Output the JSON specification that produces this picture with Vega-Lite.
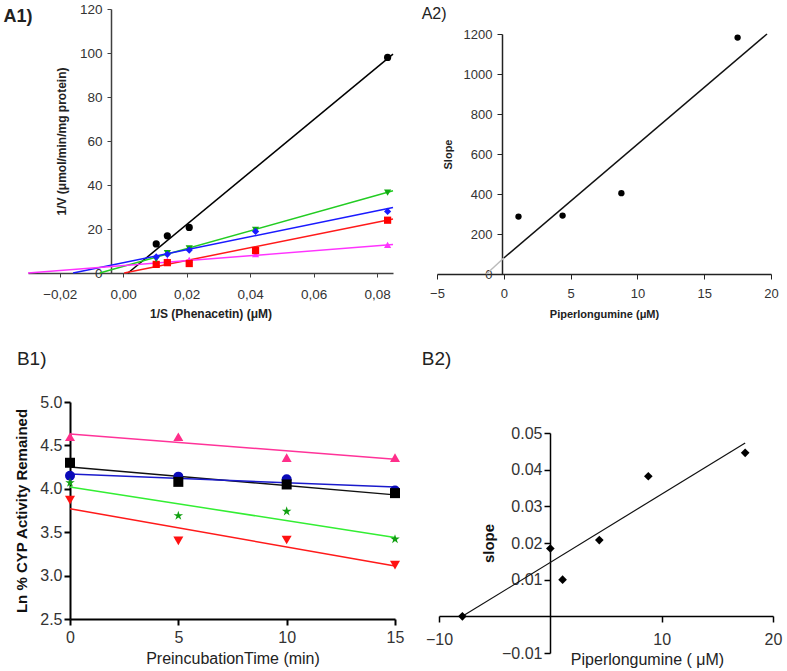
{
  "$schema": "https://vega.github.io/schema/vega-lite/v6.json",
  "width": 787,
  "height": 671,
  "padding": 0,
  "autosize": "none",
  "background": "white",
  "config": {
    "view": {"stroke": null},
    "axis": {"grid": false, "labelFont": "Liberation Sans", "titleFont": "Liberation Sans", "labelFlush": false, "labelOverlap": false},
    "text": {"font": "Liberation Sans"}
  },
  "datasets": {
    "a1p": [
      {"s": "k", "x": 0.0104, "y": 13.2}, {"s": "k", "x": 0.0139, "y": 16.9}, {"s": "k", "x": 0.0208, "y": 20.7}, {"s": "k", "x": 0.0833, "y": 98.0},
      {"s": "m", "x": 0.0104, "y": 5.2}, {"s": "m", "x": 0.0139, "y": 5.6}, {"s": "m", "x": 0.0208, "y": 6.0}, {"s": "m", "x": 0.0417, "y": 8.6}, {"s": "m", "x": 0.0833, "y": 12.8},
      {"s": "r", "x": 0.0104, "y": 3.9}, {"s": "r", "x": 0.0139, "y": 4.7}, {"s": "r", "x": 0.0208, "y": 4.3}, {"s": "r", "x": 0.0417, "y": 10.2}, {"s": "r", "x": 0.0833, "y": 24.0},
      {"s": "g", "x": 0.0104, "y": 6.3}, {"s": "g", "x": 0.0139, "y": 9.0}, {"s": "g", "x": 0.0208, "y": 11.2}, {"s": "g", "x": 0.0417, "y": 19.6}, {"s": "g", "x": 0.0833, "y": 36.5},
      {"s": "b", "x": 0.0104, "y": 7.3}, {"s": "b", "x": 0.0139, "y": 8.5}, {"s": "b", "x": 0.0208, "y": 10.4}, {"s": "b", "x": 0.0417, "y": 18.9}, {"s": "b", "x": 0.0833, "y": 28.0}
    ],
    "a1l": [
      {"s": "k", "x": 0.0015, "y": 0}, {"s": "k", "x": 0.085, "y": 99.5},
      {"s": "g", "x": -0.0074, "y": 0}, {"s": "g", "x": 0.085, "y": 37.4},
      {"s": "b", "x": -0.0158, "y": 0}, {"s": "b", "x": 0.085, "y": 29.8},
      {"s": "r", "x": 0.0003, "y": 0}, {"s": "r", "x": 0.085, "y": 24.5},
      {"s": "m", "x": -0.03, "y": 0}, {"s": "m", "x": 0.085, "y": 12.9}
    ],
    "a2p": [
      {"s": "k", "x": 1.1, "y": 287}, {"s": "k", "x": 4.4, "y": 292}, {"s": "k", "x": 8.8, "y": 404}, {"s": "k", "x": 17.5, "y": 1182}
    ],
    "a2l": [
      {"s": "k", "x": 0, "y": 80}, {"s": "k", "x": 19.7, "y": 1200},
      {"s": "g", "x": -1.3, "y": 0}, {"s": "g", "x": 0, "y": 80}
    ],
    "b1p": [
      {"s": "p", "x": 0, "y": 4.60}, {"s": "p", "x": 5, "y": 4.60}, {"s": "p", "x": 10, "y": 4.36}, {"s": "p", "x": 15, "y": 4.36},
      {"s": "b", "x": 0, "y": 4.15}, {"s": "b", "x": 5, "y": 4.14}, {"s": "b", "x": 10, "y": 4.11}, {"s": "b", "x": 15, "y": 3.98},
      {"s": "k", "x": 0, "y": 4.30}, {"s": "k", "x": 5, "y": 4.08}, {"s": "k", "x": 10, "y": 4.05}, {"s": "k", "x": 15, "y": 3.95},
      {"s": "g", "x": 0, "y": 4.07}, {"s": "g", "x": 5, "y": 3.69}, {"s": "g", "x": 10, "y": 3.74}, {"s": "g", "x": 15, "y": 3.42},
      {"s": "r", "x": 0, "y": 3.87}, {"s": "r", "x": 5, "y": 3.40}, {"s": "r", "x": 10, "y": 3.41}, {"s": "r", "x": 15, "y": 3.12}
    ],
    "b1l": [
      {"s": "p", "x": 0, "y": 4.63}, {"s": "p", "x": 15, "y": 4.34},
      {"s": "k", "x": 0, "y": 4.25}, {"s": "k", "x": 15, "y": 3.93},
      {"s": "b", "x": 0, "y": 4.17}, {"s": "b", "x": 15, "y": 4.02},
      {"s": "g", "x": 0, "y": 4.02}, {"s": "g", "x": 15, "y": 3.44},
      {"s": "r", "x": 0, "y": 3.77}, {"s": "r", "x": 15, "y": 3.11}
    ],
    "b2p": [
      {"s": "k", "x": -7.9, "y": 0.0}, {"s": "k", "x": 0, "y": 0.0185}, {"s": "k", "x": 1.1, "y": 0.0100},
      {"s": "k", "x": 4.4, "y": 0.0208}, {"s": "k", "x": 8.8, "y": 0.0382}, {"s": "k", "x": 17.5, "y": 0.0446}
    ],
    "b2l": [
      {"s": "k", "x": -7.9, "y": 0.0}, {"s": "k", "x": 17.5, "y": 0.0473}
    ]
  },
  "layer": [
    {
      "encoding": {
        "x": {"field": "x", "type": "quantitative",
          "scale": {"domain": [-0.03, 0.085], "range": [28, 393], "zero": false, "nice": false},
          "axis": {"orient": "bottom", "offset": -398, "values": [-0.02, 0, 0.02, 0.04, 0.06, 0.08],
            "labelExpr": "replace(format(datum.value, '.2f'), '.', ',')",
            "title": "1/S (Phenacetin) (μM)", "titleFontSize": 12, "titleFontWeight": "bold", "titleColor": "#222", "titlePadding": 8,
            "labelFontSize": 13.5, "labelColor": "#333", "tickSize": 4, "labelPadding": 10,
            "domainColor": "#404040", "tickColor": "#404040", "domainWidth": 1.5}},
        "y": {"field": "y", "type": "quantitative",
          "scale": {"domain": [0, 120], "range": [273, 9], "zero": false, "nice": false},
          "axis": {"orient": "left", "offset": -111, "values": [0, 20, 40, 60, 80, 100, 120], "format": "d",
            "title": "1/V (μmol/min/mg protein)", "titleFontSize": 12, "titleFontWeight": "bold", "titleColor": "#222", "titlePadding": 11,
            "labelFontSize": 13.5, "labelColor": "#333", "tickSize": 4, "labelPadding": 5,
            "domainColor": "#404040", "tickColor": "#404040", "domainWidth": 1.5}}
      },
      "layer": [
        {"data": {"name": "a1l"}, "mark": {"type": "line", "strokeWidth": 1.5},
          "encoding": {"stroke": {"field": "s", "type": "nominal", "legend": null,
            "scale": {"domain": ["k", "g", "b", "r", "m"], "range": ["#000000", "#22cc22", "#1a1aff", "#ff1a1a", "#ff33ff"]}}}},
        {"data": {"name": "a1p"}, "mark": {"type": "point", "filled": true, "opacity": 1, "size": 52, "strokeWidth": 0},
          "encoding": {
            "fill": {"field": "s", "type": "nominal", "legend": null,
              "scale": {"domain": ["k", "g", "b", "r", "m"], "range": ["#000000", "#11aa11", "#1a1aff", "#ff0000", "#ff33ff"]}},
            "shape": {"field": "s", "type": "nominal", "legend": null,
              "scale": {"domain": ["k", "g", "b", "r", "m"], "range": ["circle", "triangle-down", "diamond", "square", "triangle-up"]}}}},
        {"data": {"values": [{"x": -0.0377, "y": 114.1, "t": "A1)"}]},
          "mark": {"type": "text", "align": "left", "baseline": "alphabetic", "fontSize": 18, "fontWeight": "bold", "color": "#222"},
          "encoding": {"text": {"field": "t"}}}
      ]
    },
    {
      "encoding": {
        "x": {"field": "x", "type": "quantitative",
          "scale": {"domain": [-5, 20], "range": [437, 771], "zero": false, "nice": false},
          "axis": {"orient": "bottom", "offset": -397, "values": [-5, 0, 5, 10, 15, 20], "format": "d",
            "title": "Piperlongumine (μM)", "titleFontSize": 11, "titleFontWeight": "bold", "titleColor": "#222", "titlePadding": 8,
            "labelFontSize": 13, "labelColor": "#333", "tickSize": 5, "labelPadding": 8,
            "domainColor": "#222", "tickColor": "#222", "domainWidth": 1.5}},
        "y": {"field": "y", "type": "quantitative",
          "scale": {"domain": [0, 1200], "range": [274, 34], "zero": false, "nice": false},
          "axis": {"orient": "left", "offset": -502, "values": [0, 200, 400, 600, 800, 1000, 1200], "format": "d",
            "title": "Slope", "titleFontSize": 11, "titleFontWeight": "bold", "titleColor": "#222", "titlePadding": 10,
            "labelFontSize": 13, "labelColor": "#333", "tickSize": 5, "labelPadding": 5,
            "domainColor": "#222", "tickColor": "#222", "domainWidth": 1.5}}
      },
      "layer": [
        {"data": {"name": "a2l"}, "mark": {"type": "line", "strokeWidth": 1.5},
          "encoding": {"stroke": {"field": "s", "type": "nominal", "legend": null,
            "scale": {"domain": ["k", "g"], "range": ["#111111", "#bbbbbb"]}}}},
        {"data": {"name": "a2p"}, "mark": {"type": "point", "filled": true, "opacity": 1, "size": 40, "strokeWidth": 0, "shape": "circle", "color": "#000000"}},
        {"data": {"values": [{"x": -6.15, "y": 1273, "t": "A2)"}]},
          "mark": {"type": "text", "align": "left", "baseline": "alphabetic", "fontSize": 16, "color": "#222"},
          "encoding": {"text": {"field": "t"}}}
      ]
    },
    {
      "encoding": {
        "x": {"field": "x", "type": "quantitative",
          "scale": {"domain": [0, 15], "range": [70, 395], "zero": false, "nice": false},
          "axis": {"orient": "bottom", "offset": -52, "values": [0, 5, 10, 15], "format": "d",
            "title": "PreincubationTime (min)", "titleFontSize": 16, "titleFontWeight": "normal", "titleColor": "#222", "titlePadding": 5,
            "labelFontSize": 16, "labelColor": "#333", "tickSize": 6, "labelPadding": 4,
            "domainColor": "#000", "tickColor": "#000", "domainWidth": 2, "tickWidth": 2}},
        "y": {"field": "y", "type": "quantitative",
          "scale": {"domain": [2.5, 5.0], "range": [619, 402], "zero": false, "nice": false},
          "axis": {"orient": "left", "offset": -70, "values": [2.5, 3.0, 3.5, 4.0, 4.5, 5.0], "format": ".1f",
            "title": "Ln % CYP Activity Remained", "titleFontSize": 15, "titleFontWeight": "bold", "titleColor": "#111", "titlePadding": 10,
            "labelFontSize": 16, "labelColor": "#333", "tickSize": 6, "labelPadding": 2,
            "domainColor": "#000", "tickColor": "#000", "domainWidth": 2, "tickWidth": 2}}
      },
      "layer": [
        {"data": {"name": "b1l"}, "mark": {"type": "line", "strokeWidth": 1.5},
          "encoding": {"stroke": {"field": "s", "type": "nominal", "legend": null,
            "scale": {"domain": ["p", "k", "b", "g", "r"], "range": ["#ff3399", "#111111", "#1a1acc", "#33ee33", "#ff1a1a"]}}}},
        {"data": {"name": "b1p"}, "mark": {"type": "point", "filled": true, "opacity": 1, "size": 100, "strokeWidth": 0},
          "encoding": {
            "fill": {"field": "s", "type": "nominal", "legend": null,
              "scale": {"domain": ["p", "k", "b", "g", "r"], "range": ["#ff2e8a", "#000000", "#0a0ab8", "#11a011", "#ff1111"]}},
            "shape": {"field": "s", "type": "nominal", "legend": null,
              "scale": {"domain": ["p", "k", "b", "g", "r"], "range": ["triangle-up", "square", "circle", "M0,-1L0.2245,-0.309L0.9511,-0.309L0.3633,0.118L0.5878,0.809L0,0.382L-0.5878,0.809L-0.3633,0.118L-0.9511,-0.309L-0.2245,-0.309Z", "triangle-down"]}}}},
        {"data": {"values": [{"x": -2.45, "y": 5.426, "t": "B1)"}]},
          "mark": {"type": "text", "align": "left", "baseline": "alphabetic", "fontSize": 19, "color": "#222"},
          "encoding": {"text": {"field": "t"}}}
      ]
    },
    {
      "encoding": {
        "x": {"field": "x", "type": "quantitative",
          "scale": {"domain": [-10, 20], "range": [439, 773], "zero": false, "nice": false},
          "axis": {"orient": "bottom", "offset": -55, "values": [-10, 10, 20], "format": "d",
            "title": "Piperlongumine ( μM)", "titleFontSize": 16, "titleFontWeight": "normal", "titleColor": "#222", "titlePadding": 4, "titleX": 647,
            "labelFontSize": 16, "labelColor": "#333", "tickSize": 6, "labelPadding": 9,
            "domainColor": "#000", "tickColor": "#000", "domainWidth": 1.5, "tickWidth": 1.5}},
        "y": {"field": "y", "type": "quantitative",
          "scale": {"domain": [-0.01, 0.05], "range": [653, 433], "zero": false, "nice": false},
          "axis": {"orient": "left", "offset": -550, "values": [-0.01, 0.01, 0.02, 0.03, 0.04, 0.05], "format": ".2f",
            "title": "slope", "titleFontSize": 15, "titleFontWeight": "bold", "titleColor": "#111", "titlePadding": 5,
            "labelFontSize": 16, "labelColor": "#333", "tickSize": 6, "labelPadding": 2,
            "domainColor": "#000", "tickColor": "#000", "domainWidth": 1.5, "tickWidth": 1.5}}
      },
      "layer": [
        {"data": {"name": "b2l"}, "mark": {"type": "line", "strokeWidth": 1.2, "color": "#111111"}},
        {"data": {"name": "b2p"}, "mark": {"type": "point", "filled": true, "opacity": 1, "size": 75, "strokeWidth": 0, "shape": "diamond", "color": "#000000"}},
        {"data": {"values": [{"x": -11.55, "y": 0.0686, "t": "B2)"}]},
          "mark": {"type": "text", "align": "left", "baseline": "alphabetic", "fontSize": 19, "color": "#222"},
          "encoding": {"text": {"field": "t"}}}
      ]
    }
  ],
  "resolve": {
    "scale": {"x": "independent", "y": "independent", "stroke": "independent", "fill": "independent", "shape": "independent"},
    "axis": {"x": "independent", "y": "independent"}
  }
}
